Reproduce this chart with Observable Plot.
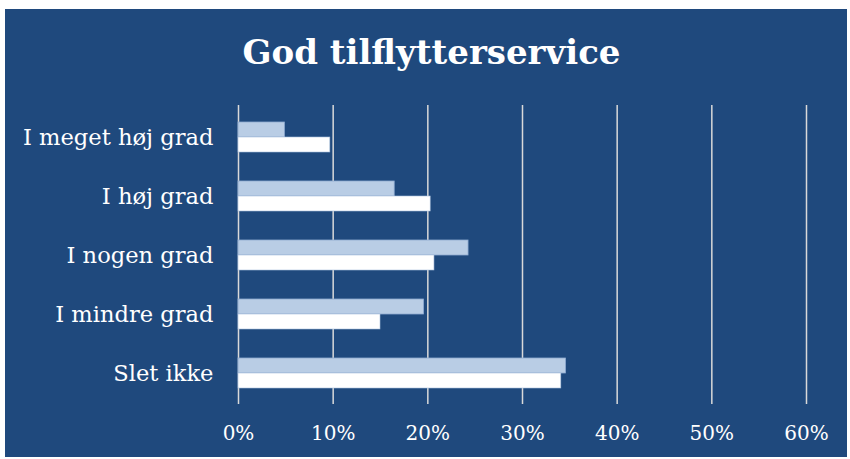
<!DOCTYPE html>
<html>
<head>
<meta charset="utf-8">
<script src="https://cdn.jsdelivr.net/npm/d3@7"></script>
<script src="https://cdn.jsdelivr.net/npm/@observablehq/plot@0.6"></script>
<style>
  html, body { margin: 0; padding: 0; background: #ffffff; }
  #wrap { position: relative; width: 850px; height: 459px; overflow: hidden; }
  #panel { position: absolute; left: 5px; top: 9px; width: 842px; height: 448px; background: #1f497d; }
  #title { position: absolute; left: 0; top: 35px; width: 863px; text-align: center;
           font-family: "DejaVu Serif", Georgia, serif; font-weight: bold; font-size: 34px;
           line-height: 34px; color: #ffffff; white-space: nowrap; }
  #chart { position: absolute; left: 0; top: 90px; }
  #chart svg { background: transparent; overflow: visible; }
</style>
</head>
<body>
<div id="wrap">
  <div id="panel"></div>
  <div id="title">God tilflytterservice</div>
  <div id="chart"></div>
</div>
<script>
const categories = ["I meget høj grad", "I høj grad", "I nogen grad", "I mindre grad", "Slet ikke"];
const seriesA = [0.049, 0.165, 0.243, 0.196, 0.346]; // light blue (upper bar)
const seriesB = [0.097, 0.203, 0.207, 0.150, 0.341]; // white (lower bar)
const xTicks = [0, 0.1, 0.2, 0.3, 0.4, 0.5, 0.6];

const dataA = categories.map((c, i) => ({category: c, value: seriesA[i]}));
const dataB = categories.map((c, i) => ({category: c, value: seriesB[i]}));

const chart = Plot.plot({
  width: 850,
  height: 369,
  marginLeft: 238,
  marginRight: 44,
  marginTop: 15,
  marginBottom: 55,
  style: {background: "transparent", color: "#ffffff", fontFamily: "'DejaVu Serif', Georgia, serif"},
  x: {domain: [0, 0.6], ticks: xTicks, tickFormat: d3.format(".0%"), label: null},
  y: {domain: categories, paddingInner: 0.5, paddingOuter: 0.25, label: null},
  marks: [
    Plot.ruleX(xTicks, {stroke: "#d9d9d9", strokeWidth: 1.5}),
    Plot.barX(dataA, {y: "category", x: "value", fill: "#b9cde5", stroke: "#8eaad0", strokeWidth: 0.8, insetBottom: 15}),
    Plot.barX(dataB, {y: "category", x: "value", fill: "#ffffff", stroke: "#a9bfdc", strokeWidth: 0.6, insetTop: 15}),
    Plot.axisY({tickSize: 0, tickPadding: 25, fontSize: 22.6, fill: "#ffffff", label: null}),
    Plot.axisX({ticks: xTicks, tickFormat: d3.format(".0%"), tickSize: 0, tickPadding: 21, fontSize: 20, fill: "#ffffff", label: null})
  ]
});
document.getElementById("chart").appendChild(chart);
</script>
</body>
</html>
